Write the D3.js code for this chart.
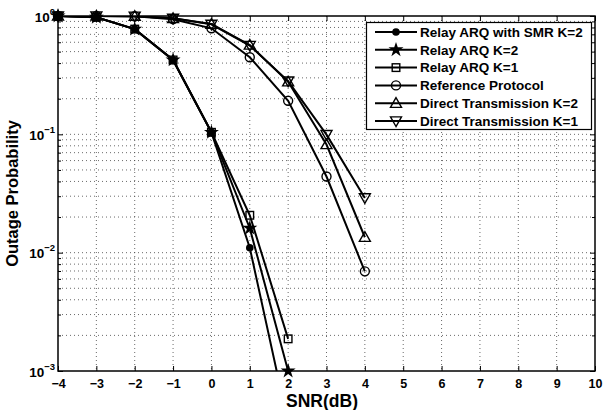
<!doctype html>
<meta charset="utf-8">
<title>Outage Probability</title>
<script src="https://cdn.jsdelivr.net/npm/d3@7/dist/d3.min.js"></script>
<style>
    body { margin: 0; background: #fff; }
    text { font-family: "Liberation Sans", Arial, Helvetica, sans-serif; font-weight: bold; }
</style>
<body>
<div id="chart"></div>
<script>

    // data
    var snr = [-4, -3, -2, -1, 0, 1, 2, 3, 4];
    var smrK2 = [1, 0.975, 0.775, 0.425, 0.104, 0.011, 0.00036];
    var arqK2 = [1, 0.975, 0.775, 0.425, 0.104, 0.0161, 0.001];
    var arqK1 = [1, 0.975, 0.775, 0.425, 0.104, 0.0207, 0.00187];
    var refProt = [1, 1, 0.995, 0.94, 0.787, 0.448, 0.192, 0.044, 0.00695];
    var directK2 = [1, 1, 0.995, 0.955, 0.855, 0.569, 0.278, 0.082, 0.0135];
    var directK1 = [1, 1, 0.995, 0.955, 0.85, 0.563, 0.282, 0.0994, 0.029];

    var seriesNames = ['Relay ARQ with SMR K=2', 'Relay ARQ K=2', 'Relay ARQ K=1',
        'Reference Protocol', 'Direct Transmission K=2', 'Direct Transmission K=1'];
    var seriesValues = [smrK2, arqK2, arqK1, refProt, directK2, directK1];
    var markers = ['dot', 'star', 'square', 'circle', 'up', 'down'];

    var xTicks = d3.range(-4, 11);
    var yDecades = [1e-3, 1e-2, 1e-1, 1];

    // note: "top" is a read-only global, so use other names for the margins
    var W = 603, H = 410
            , pL = 58, pR = 595, pT = 16, pB = 371;

    var x = d3.scaleLinear().domain([-4, 10]).range([pL, pR]);
    var y = d3.scaleLog().domain([1e-3, 1]).range([pB, pT]);

    var svg = d3.select('#chart').append('svg')
            .attr('width', W).attr('height', H);

    svg.append('defs').append('clipPath').attr('id', 'clip')
            .append('rect')
            .attr('x', pL).attr('y', pT)
            .attr('width', pR - pL).attr('height', pB - pT);

    // minor log positions for grid and ticks
    var yMinor = [];
    [1e-3, 1e-2, 1e-1].forEach(function(d) {
        for (var k = 1; k <= 9; k++) yMinor.push(d * k);
    });

    // grid
    var grid = svg.append('g')
            .attr('stroke', '#444')
            .attr('stroke-width', 0.8)
            .attr('stroke-dasharray', '1,3');

    grid.selectAll('line.gx')
            .data(xTicks.slice(1, -1))
            .enter().append('line')
            .attr('x1', function(d) { return x(d) }).attr('x2', function(d) { return x(d) })
            .attr('y1', pT).attr('y2', pB);

    grid.selectAll('line.gy')
            .data(yMinor.slice(1))
            .enter().append('line')
            .attr('x1', pL).attr('x2', pR)
            .attr('y1', function(d) { return y(d) }).attr('y2', function(d) { return y(d) });

    // axes, ticks inward
    var fmtX = function(d) { return d < 0 ? '\u2212' + (-d) : d; };

    svg.append('g')
            .attr('transform', 'translate(0,' + pB + ')')
            .call(d3.axisBottom(x).tickValues(xTicks).tickSizeInner(-5).tickSizeOuter(0).tickPadding(8).tickFormat(fmtX))
            .call(function(g) {
                g.select('.domain').remove();
                g.selectAll('text').attr('font-size', 12.5).attr('fill', '#000')
                        .style('font-family', '"Liberation Sans", Arial, sans-serif').style('font-weight', 'bold');
            });

    svg.append('g')
            .attr('transform', 'translate(0,' + pT + ')')
            .call(d3.axisTop(x).tickValues(xTicks).tickSizeInner(-5).tickSizeOuter(0).tickFormat(''))
            .call(function(g) { g.select('.domain').remove(); });

    svg.append('g')
            .attr('transform', 'translate(' + pL + ',0)')
            .call(d3.axisLeft(y).tickValues(yMinor.concat([1])).tickSizeInner(-3).tickSizeOuter(0).tickFormat(''))
            .call(function(g) {
                g.select('.domain').remove();
                g.selectAll('.tick line').filter(function(d) { return yDecades.indexOf(d) !== -1 }).attr('x2', 5);
            });

    svg.append('g')
            .attr('transform', 'translate(' + pR + ',0)')
            .call(d3.axisRight(y).tickValues(yMinor.concat([1])).tickSizeInner(-3).tickSizeOuter(0).tickFormat(''))
            .call(function(g) {
                g.select('.domain').remove();
                g.selectAll('.tick line').filter(function(d) { return yDecades.indexOf(d) !== -1 }).attr('x2', -5);
            });

    // y labels 10^n
    var yl = svg.append('g').selectAll('text.ylab')
            .data(yDecades)
            .enter().append('text')
            .attr('x', pL - 3)
            .attr('y', function(d) { return y(d) + 5.5 })
            .attr('text-anchor', 'end')
            .attr('font-size', 13.5);
    yl.append('tspan').text('10');
    yl.append('tspan')
            .attr('dy', -7)
            .attr('font-size', 9.5)
            .text(function(d) { var e = Math.round(Math.log10(d)); return e < 0 ? '\u2212' + (-e) : e; });

    // frame
    svg.append('rect')
            .attr('x', pL).attr('y', pT)
            .attr('width', pR - pL).attr('height', pB - pT)
            .attr('fill', 'none').attr('stroke', '#000').attr('stroke-width', 1.5);

    // axis titles
    svg.append('text')
            .attr('x', 322).attr('y', 407)
            .attr('text-anchor', 'middle').attr('font-size', 17.5)
            .text('SNR(dB)');

    svg.append('text')
            .attr('transform', 'translate(18,' + ((pT + pB) / 2) + ') rotate(-90)')
            .attr('text-anchor', 'middle').attr('font-size', 16.5)
            .text('Outage Probability');

    // marker drawing
    function drawMarker(g, type, cx, cy) {
        if (type === 'dot') {
            g.append('circle').attr('cx', cx).attr('cy', cy).attr('r', 3.8).attr('fill', '#000');
        } else if (type === 'circle') {
            g.append('circle').attr('cx', cx).attr('cy', cy).attr('r', 4.5)
                    .attr('fill', 'none').attr('stroke', '#000').attr('stroke-width', 1.4);
        } else if (type === 'square') {
            g.append('rect').attr('x', cx - 3.8).attr('y', cy - 3.8).attr('width', 7.6).attr('height', 7.6)
                    .attr('fill', 'none').attr('stroke', '#000').attr('stroke-width', 1.4);
        } else if (type === 'star') {
            g.append('path').attr('d', d3.symbol(d3.symbolStar, 70)())
                    .attr('transform', 'translate(' + cx + ',' + cy + ')')
                    .attr('fill', '#000');
        } else {
            var s = 5.5;
            var pts = type === 'up'
                    ? [[cx, cy - s], [cx - s, cy + s * 0.75], [cx + s, cy + s * 0.75]]
                    : [[cx, cy + s], [cx - s, cy - s * 0.75], [cx + s, cy - s * 0.75]];
            g.append('polygon').attr('points', pts.map(function(p) { return p.join(',') }).join(' '))
                    .attr('fill', 'none').attr('stroke', '#000').attr('stroke-width', 1.4);
        }
    }

    var line = d3.line()
            .x(function(d) { return x(d.x) })
            .y(function(d) { return y(d.y) });

    var plot = svg.append('g').attr('clip-path', 'url(#clip)');

    seriesValues.forEach(function(vals, i) {
        var pts = vals.map(function(v, j) { return { x: snr[j], y: v } });
        plot.append('path')
                .datum(pts)
                .attr('d', line)
                .attr('fill', 'none')
                .attr('stroke', '#000')
                .attr('stroke-width', 2);
    });

    // markers on top, not clipped (so they sit on the frame like the original)
    var mk = svg.append('g');
    seriesValues.forEach(function(vals, i) {
        vals.forEach(function(v, j) {
            if (v < 1e-3) return;
            drawMarker(mk, markers[i], x(snr[j]), y(v));
        });
    });

    // legend
    var lg = svg.append('g');
    lg.append('rect')
            .attr('x', 366.5).attr('y', 22.5)
            .attr('width', 225).attr('height', 107)
            .attr('fill', '#fff').attr('stroke', '#000').attr('stroke-width', 1.2);

    seriesNames.forEach(function(name, i) {
        var ry = 32 + i * 17.8;
        lg.append('line')
                .attr('x1', 375).attr('x2', 417).attr('y1', ry).attr('y2', ry)
                .attr('stroke', '#000').attr('stroke-width', 2);
        drawMarker(lg, markers[i], 396, ry);
        lg.append('text')
                .attr('x', 420).attr('y', ry + 4.8)
                .attr('font-size', 13.5)
                .text(name);
    });

</script>
</body>
</html>
